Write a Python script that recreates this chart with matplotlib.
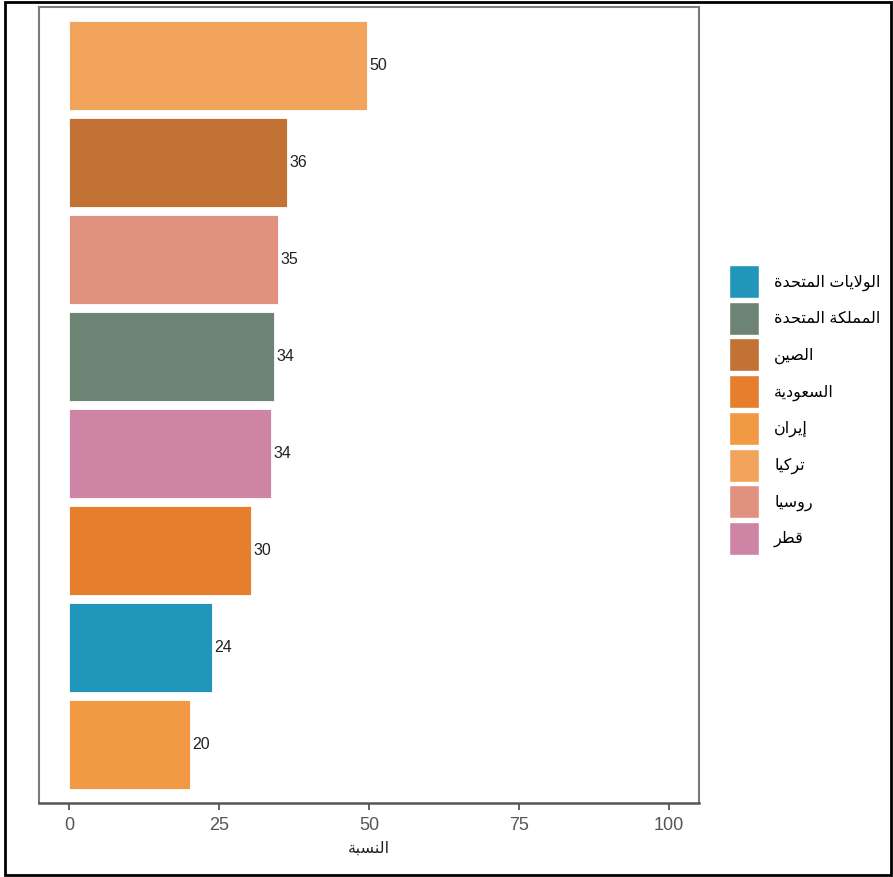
import matplotlib
matplotlib.use('Agg')
import matplotlib.pyplot as plt
from matplotlib.patches import Patch, Rectangle

plt.rcParams['font.family'] = ['Liberation Sans', 'DejaVu Sans']

# data, top bar first
countries = ['تركيا', 'الصين', 'روسيا', 'المملكة المتحدة', 'قطر', 'السعودية', 'الولايات المتحدة', 'إيران']
values = [49.7, 36.4, 34.8, 34.2, 33.7, 30.3, 23.8, 20.2]
labels = ['50', '36', '35', '34', '34', '30', '24', '20']

legend_order = ['الولايات المتحدة', 'المملكة المتحدة', 'الصين', 'السعودية', 'إيران', 'تركيا', 'روسيا', 'قطر']
colors = {
    'الولايات المتحدة': '#2196BA',
    'المملكة المتحدة': '#6D8374',
    'الصين': '#C27234',
    'السعودية': '#E67E2D',
    'إيران': '#F29A43',
    'تركيا': '#F2A35C',
    'روسيا': '#E0917F',
    'قطر': '#CE84A4',
}
x_ticks = [0, 25, 50, 75, 100]
x_title = 'النسبة'

# simple arabic shaping (presentation forms) + reverse for left-to-right drawing
FORMS = {
    'ا': (0xFE8D, 2), 'إ': (0xFE87, 2), 'ب': (0xFE8F, 4), 'ة': (0xFE93, 2),
    'ت': (0xFE95, 4), 'ح': (0xFEA1, 4), 'د': (0xFEA9, 2), 'ر': (0xFEAD, 2),
    'س': (0xFEB1, 4), 'ص': (0xFEB9, 4), 'ط': (0xFEC1, 4), 'ع': (0xFEC9, 4),
    'ق': (0xFED5, 4), 'ك': (0xFED9, 4), 'ل': (0xFEDD, 4), 'م': (0xFEE1, 4),
    'ن': (0xFEE5, 4), 'و': (0xFEED, 2), 'ي': (0xFEF1, 4),
}


def shape(text):
    out = []
    prev_joins = False
    i = 0
    while i < len(text):
        c = text[i]
        nxt = text[i + 1] if i + 1 < len(text) else ''
        if c not in FORMS:
            out.append(c)
            prev_joins = False
            i += 1
            continue
        if c == 'ل' and nxt in ('ا', 'إ'):
            lig = 0xFEFB if nxt == 'ا' else 0xFEF9
            out.append(chr(lig + (1 if prev_joins else 0)))
            prev_joins = False
            i += 2
            continue
        base, n = FORMS[c]
        to_next = n == 4 and nxt in FORMS
        if prev_joins and to_next:
            f = 3
        elif prev_joins:
            f = 1
        elif to_next:
            f = 2
        else:
            f = 0
        out.append(chr(base + f))
        prev_joins = to_next
        i += 1
    return ''.join(reversed(out))


fig = plt.figure(figsize=(8.93, 8.77), dpi=100)
ax = fig.add_axes([39 / 893, 1 - 803 / 877, 660 / 893, 796 / 877])

ypos = list(range(len(countries), 0, -1))
ax.barh(ypos, values, height=0.92, color=[colors[c] for c in countries],
        edgecolor='white', linewidth=0.6)
for y, v, lab in zip(ypos, values, labels):
    ax.text(v + 0.4, y, lab, va='center', ha='left', fontsize=11.5, color='#222222')

ax.set_xlim(-5, 105)
ax.set_ylim(0.4, len(countries) + 0.6)
ax.set_xticks(x_ticks)
ax.set_yticks([])
ax.tick_params(axis='x', length=5, width=1.2, color='#444444', labelsize=13,
               labelcolor='#555555', pad=5)
for s in ax.spines.values():
    s.set_color('#7a7a7a')
    s.set_linewidth(1.5)
ax.spines['bottom'].set_color('#555555')
ax.spines['bottom'].set_linewidth(1.8)
ax.set_xlabel(shape(x_title), fontsize=11.5, color='#222222', labelpad=5)

handles = [Patch(facecolor=colors[c], edgecolor='white', label=shape(c)) for c in legend_order]
fig.legend(handles=handles, loc='center left', bbox_to_anchor=(729 / 893, 1 - 410 / 877),
           frameon=False, fontsize=11.5, handlelength=1.88, handleheight=2.81,
           labelspacing=0.226, handletextpad=0.94, borderpad=0, borderaxespad=0)

fig.patches.append(Rectangle((5 / 893, 2 / 877), 886 / 893, 873 / 877, transform=fig.transFigure,
                             fill=False, edgecolor='black', linewidth=2))

fig.savefig('out.png', dpi=100)
